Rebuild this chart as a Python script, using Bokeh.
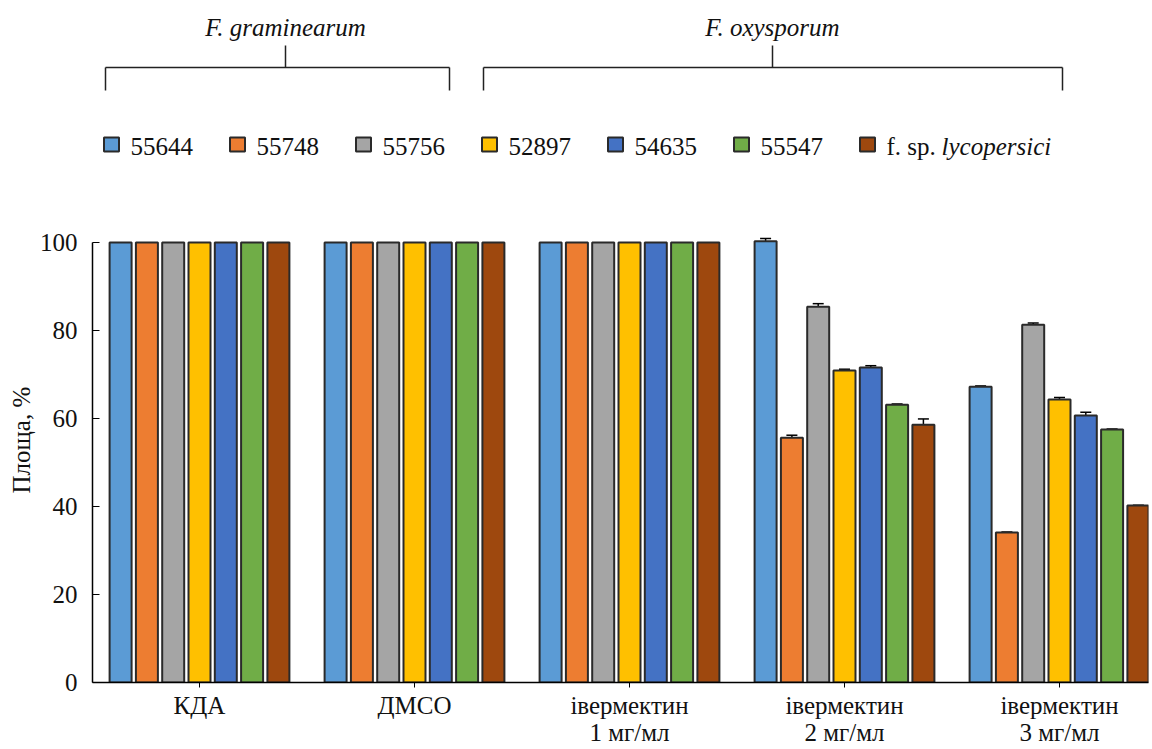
from bokeh.plotting import figure
from bokeh.models import (ColumnDataSource, FixedTicker, Range1d, Whisker, TeeHead, Title)
from bokeh.core.properties import value
from bokeh.embed import file_html
from bokeh.resources import INLINE

# ---------------- data ----------------
categories = ["КДА", "ДМСО", "івермектин\n1 мг/мл", "івермектин\n2 мг/мл", "івермектин\n3 мг/мл"]
series_names = ["55644", "55748", "55756", "52897", "54635", "55547", "f. sp. lycopersici"]
series_colors = ["#5B9BD5", "#ED7D31", "#A5A5A5", "#FFC000", "#4472C4", "#70AD47", "#9E480E"]

v_55644 = [100, 100, 100, 100.3, 67.2]
v_55748 = [100, 100, 100, 55.6, 34.1]
v_55756 = [100, 100, 100, 85.4, 81.3]
v_52897 = [100, 100, 100, 70.9, 64.3]
v_54635 = [100, 100, 100, 71.6, 60.7]
v_55547 = [100, 100, 100, 63.1, 57.5]
v_lycop = [100, 100, 100, 58.6, 40.2]

e_55644 = [0, 0, 0, 0.6, 0.2]
e_55748 = [0, 0, 0, 0.6, 0.1]
e_55756 = [0, 0, 0, 0.7, 0.4]
e_52897 = [0, 0, 0, 0.3, 0.5]
e_54635 = [0, 0, 0, 0.4, 0.7]
e_55547 = [0, 0, 0, 0.2, 0.1]
e_lycop = [0, 0, 0, 1.3, 0.1]

y_ticks = [0, 20, 40, 60, 80, 100]
y_label = "Площа, %"
group_labels = ["F. graminearum", "F. oxysporum"]

values = [v_55644, v_55748, v_55756, v_52897, v_54635, v_55547, v_lycop]
errors = [e_55644, e_55748, e_55756, e_52897, e_54635, e_55547, e_lycop]

# ---------------- layout helpers (page px -> data) ----------------
G0 = 199.0      # page x of first group centre
GPX = 215.0     # px per group
Y0 = 682.0      # page y of value 0
YPX = 4.4       # px per unit


def dx(sx):
    return (sx - G0) / GPX


def dy(sy):
    return (Y0 - sy) / YPX


FONT = value("Liberation Serif")
FS = value("25px")
TXT = "#111111"

W, H = 1152, 749
p = figure(width=W, height=H, output_backend="svg", toolbar_location=None,
           x_range=Range1d(dx(92), dx(1148)), y_range=Range1d(0, dy(0)),
           min_border_left=92, min_border_right=4, min_border_top=0,
           min_border_bottom=67)
p.outline_line_color = None
p.xgrid.visible = False
p.ygrid.visible = False
p.background_fill_color = "white"
p.border_fill_color = "white"

step = 26.3 / GPX
bw = 22.0 / GPX
n = len(series_names)
for i, (name, col, vals, errs) in enumerate(zip(series_names, series_colors, values, errors)):
    off = (i - (n - 1) / 2) * step
    xs = [g + off for g in range(len(categories))]
    src = ColumnDataSource(dict(x=xs, top=vals))
    p.vbar(x="x", top="top", width=bw, bottom=0, source=src,
           fill_color=col, line_color="#2a2a2a", line_width=2)
    ex = [x for x, e in zip(xs, errs) if e > 0]
    ev = [v for v, e in zip(vals, errs) if e > 0]
    ee = [e for e in errs if e > 0]
    if ex:
        wsrc = ColumnDataSource(dict(base=ex, upper=[v + e for v, e in zip(ev, ee)],
                                     lower=[v - e for v, e in zip(ev, ee)]))
        p.add_layout(Whisker(source=wsrc, base="base", upper="upper", lower="lower",
                             line_color="black", line_width=1.5,
                             upper_head=TeeHead(size=11, line_color="black", line_width=1.5),
                             lower_head=TeeHead(size=11, line_color="black", line_width=1.5)))

# axes
p.xaxis.ticker = FixedTicker(ticks=list(range(len(categories))))
p.xaxis.major_label_overrides = {i: c for i, c in enumerate(categories)}
p.xaxis.major_label_text_font = "Liberation Serif"
p.xaxis.major_label_text_font_size = "25px"
p.xaxis.major_label_text_color = TXT
p.xaxis.major_label_text_line_height = 1.0
p.xaxis.major_label_standoff = 4
p.xaxis.major_tick_in = 0
p.xaxis.major_tick_out = 5
p.xaxis.minor_tick_line_color = None
p.xaxis.axis_line_color = "black"
p.xaxis.axis_line_width = 1.5
p.xaxis.major_tick_line_color = "black"

p.yaxis.ticker = FixedTicker(ticks=y_ticks)
p.yaxis.bounds = (0, 100)
p.yaxis.major_label_text_font = "Liberation Serif"
p.yaxis.major_label_text_font_size = "25px"
p.yaxis.major_label_text_color = TXT
p.yaxis.major_label_standoff = 15
p.yaxis.major_tick_in = 7
p.yaxis.major_tick_out = 0
p.yaxis.minor_tick_line_color = None
p.yaxis.axis_line_color = "black"
p.yaxis.axis_line_width = 1.5
p.yaxis.major_tick_line_color = "black"

p.add_layout(Title(text=y_label, align="left", offset=189, standoff=4,
                   text_font="Liberation Serif", text_font_size="25px",
                   text_font_style="normal", text_color=TXT), "left")

# legend (manual, for mixed italic)
leg_sx = [111 + 126 * i for i in range(n)]
p.rect(x=[dx(s) for s in leg_sx], y=[dy(144)] * n, width=15, height=14,
       width_units="screen", height_units="screen",
       fill_color=series_colors, line_color="#2a2a2a", line_width=2)
p.text(x=[dx(s + 19) for s in leg_sx[:-1]], y=[dy(146)] * (n - 1), text=series_names[:-1],
       text_font=FONT, text_font_size=FS, text_color=TXT,
       text_align="left", text_baseline="middle")
p.text(x=[dx(leg_sx[-1] + 19)], y=[dy(146)], text=["f. sp."],
       text_font=FONT, text_font_size=FS, text_color=TXT,
       text_align="left", text_baseline="middle")
p.text(x=[dx(leg_sx[-1] + 74)], y=[dy(146)], text=["lycopersici"],
       text_font=FONT, text_font_size=FS, text_color=TXT, text_font_style="italic",
       text_align="left", text_baseline="middle")

# brackets
brackets = [(105, 449, 285), (483, 1062, 772)]
x0s, y0s, x1s, y1s = [], [], [], []
for l, r, c in brackets:
    x0s += [dx(l), dx(l), dx(r), dx(c)]
    y0s += [dy(67), dy(67), dy(67), dy(67)]
    x1s += [dx(r), dx(l), dx(r), dx(c)]
    y1s += [dy(67), dy(90), dy(90), dy(45)]
p.segment(x0=x0s, y0=y0s, x1=x1s, y1=y1s, line_color="#222222", line_width=1.5)
p.text(x=[dx(c) for _, _, c in brackets], y=[dy(27)] * 2, text=group_labels,
       text_font=FONT, text_font_size=FS, text_color=TXT, text_font_style="italic",
       text_align="center", text_baseline="middle")

open("out.html", "w").write(file_html(p, INLINE))
